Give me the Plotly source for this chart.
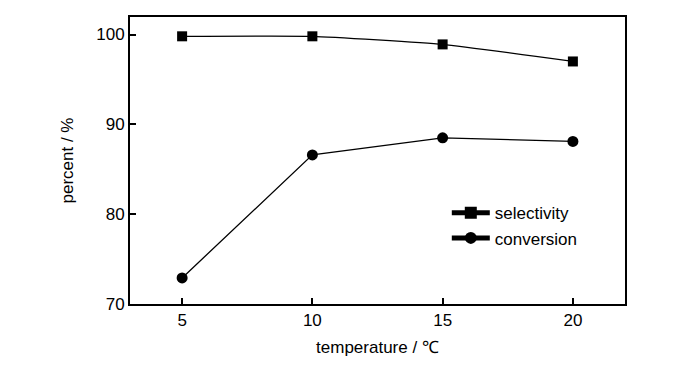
import plotly.graph_objects as go

temperature = [5, 10, 15, 20]
selectivity = [99.8, 99.8, 98.9, 97.0]
conversion = [72.9, 86.6, 88.5, 88.1]
x_ticks = [5, 10, 15, 20]
y_ticks = [70, 80, 90, 100]

FONT = "Liberation Sans Narrow, Arial Narrow, Liberation Sans, Arial, sans-serif"

fig = go.Figure()
fig.add_trace(go.Scatter(
    x=temperature, y=selectivity, name="selectivity", mode="lines+markers",
    line=dict(color="black", width=1.3, shape="spline", smoothing=0.4),
    marker=dict(symbol="square", size=10, color="black"),
))
fig.add_trace(go.Scatter(
    x=temperature, y=conversion, name="conversion", mode="lines+markers",
    line=dict(color="black", width=1.3),
    marker=dict(symbol="circle", size=11, color="black"),
))

axis_common = dict(
    showline=True, linecolor="black", linewidth=2, mirror=True,
    ticks="inside", ticklen=6, tickwidth=1.5, tickcolor="black",
    showgrid=False, zeroline=False,
    tickfont=dict(family=FONT, size=17, color="black"),
)

fig.update_layout(
    width=700, height=365,
    margin=dict(l=122, r=83, t=7, b=69),
    paper_bgcolor="white", plot_bgcolor="white",
    font=dict(family=FONT, color="black"),
    showlegend=True,
    legend=dict(x=0.640, y=0.379, xanchor="left", yanchor="top",
                bgcolor="rgba(0,0,0,0)", font=dict(family=FONT, size=17),
                tracegroupgap=0, itemsizing="constant", itemwidth=38),
    xaxis=dict(range=[3, 22], tickvals=x_ticks,
               title=dict(text="temperature / ℃", font=dict(family=FONT, size=17), standoff=12),
               **axis_common),
    yaxis=dict(range=[70, 101.95], tickvals=y_ticks,
               title=dict(text="percent / %", font=dict(family=FONT, size=17), standoff=18),
               **axis_common),
)

fig.write_html("out.html")
